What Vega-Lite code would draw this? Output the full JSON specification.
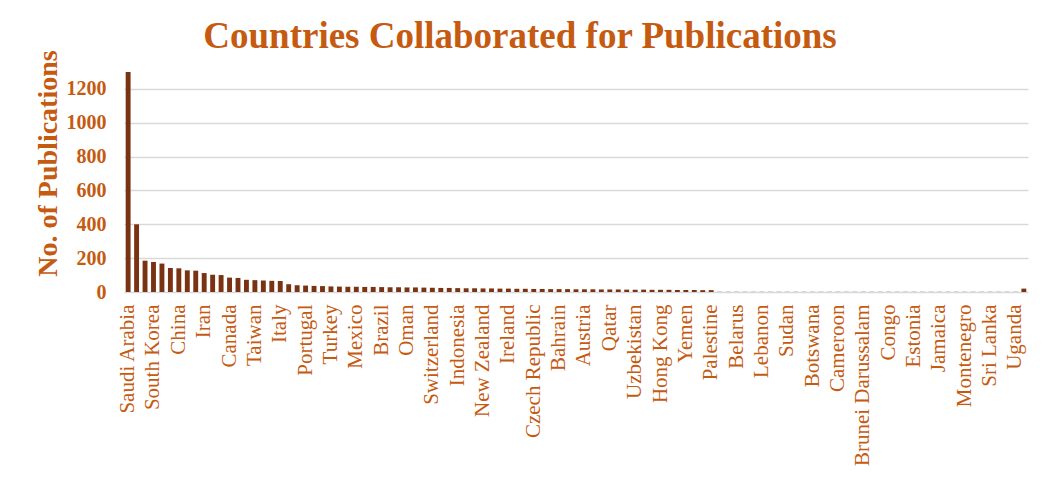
{
  "$schema": "https://vega.github.io/schema/vega-lite/v6.json",
  "width": 904,
  "height": 220,
  "autosize": {"type": "none"},
  "padding": {"left": 124, "top": 72, "right": 24, "bottom": 187},
  "background": "white",
  "title": {
    "text": "Countries Collaborated for Publications",
    "font": "Liberation Serif",
    "fontSize": 37,
    "fontWeight": "bold",
    "color": "#C55A11",
    "anchor": "middle",
    "baseline": "alphabetic",
    "dx": -56,
    "dy": 55,
    "offset": 20
  },
  "data": {
    "values": [
      {"country": "Saudi Arabia", "publications": 1300},
      {"country": "Egypt", "publications": 400},
      {"country": "United States", "publications": 185},
      {"country": "South Korea", "publications": 178},
      {"country": "Malaysia", "publications": 168},
      {"country": "India", "publications": 142},
      {"country": "China", "publications": 140},
      {"country": "Pakistan", "publications": 128},
      {"country": "United Kingdom", "publications": 126},
      {"country": "Iran", "publications": 112},
      {"country": "Australia", "publications": 102},
      {"country": "Germany", "publications": 100},
      {"country": "Canada", "publications": 85},
      {"country": "France", "publications": 83},
      {"country": "Japan", "publications": 72},
      {"country": "Taiwan", "publications": 70},
      {"country": "Spain", "publications": 68},
      {"country": "Tunisia", "publications": 66},
      {"country": "Italy", "publications": 65},
      {"country": "Algeria", "publications": 46},
      {"country": "Jordan", "publications": 40},
      {"country": "Portugal", "publications": 38},
      {"country": "Iraq", "publications": 36},
      {"country": "South Africa", "publications": 35},
      {"country": "Turkey", "publications": 33},
      {"country": "Nigeria", "publications": 32},
      {"country": "Morocco", "publications": 31},
      {"country": "Mexico", "publications": 31},
      {"country": "Bangladesh", "publications": 30},
      {"country": "Vietnam", "publications": 30},
      {"country": "Brazil", "publications": 29},
      {"country": "Poland", "publications": 28},
      {"country": "Greece", "publications": 28},
      {"country": "Oman", "publications": 27},
      {"country": "Russia", "publications": 27},
      {"country": "Netherlands", "publications": 26},
      {"country": "Switzerland", "publications": 25},
      {"country": "Sweden", "publications": 24},
      {"country": "Singapore", "publications": 24},
      {"country": "Indonesia", "publications": 23},
      {"country": "Thailand", "publications": 22},
      {"country": "Romania", "publications": 22},
      {"country": "New Zealand", "publications": 21},
      {"country": "Belgium", "publications": 21},
      {"country": "Finland", "publications": 20},
      {"country": "Ireland", "publications": 20},
      {"country": "Denmark", "publications": 19},
      {"country": "Norway", "publications": 19},
      {"country": "Czech Republic", "publications": 18},
      {"country": "United Arab Emirates", "publications": 18},
      {"country": "Kuwait", "publications": 17},
      {"country": "Bahrain", "publications": 17},
      {"country": "Ethiopia", "publications": 17},
      {"country": "Kenya", "publications": 16},
      {"country": "Austria", "publications": 16},
      {"country": "Hungary", "publications": 16},
      {"country": "Chile", "publications": 15},
      {"country": "Qatar", "publications": 15},
      {"country": "Ukraine", "publications": 15},
      {"country": "Colombia", "publications": 14},
      {"country": "Uzbekistan", "publications": 14},
      {"country": "Kazakhstan", "publications": 14},
      {"country": "Philippines", "publications": 13},
      {"country": "Hong Kong", "publications": 13},
      {"country": "Argentina", "publications": 13},
      {"country": "Serbia", "publications": 12},
      {"country": "Yemen", "publications": 12},
      {"country": "Libya", "publications": 12},
      {"country": "Peru", "publications": 11},
      {"country": "Palestine", "publications": 11},
      {"country": "Ghana", "publications": 1},
      {"country": "Nepal", "publications": 1},
      {"country": "Belarus", "publications": 1},
      {"country": "Slovakia", "publications": 1},
      {"country": "Croatia", "publications": 1},
      {"country": "Lebanon", "publications": 1},
      {"country": "Cyprus", "publications": 1},
      {"country": "Ecuador", "publications": 1},
      {"country": "Sudan", "publications": 1},
      {"country": "Slovenia", "publications": 1},
      {"country": "Bulgaria", "publications": 1},
      {"country": "Botswana", "publications": 1},
      {"country": "Tanzania", "publications": 1},
      {"country": "Syria", "publications": 1},
      {"country": "Cameroon", "publications": 1},
      {"country": "Zimbabwe", "publications": 1},
      {"country": "Luxembourg", "publications": 1},
      {"country": "Brunei Darussalam", "publications": 1},
      {"country": "Lithuania", "publications": 1},
      {"country": "Mauritius", "publications": 1},
      {"country": "Congo", "publications": 1},
      {"country": "Latvia", "publications": 1},
      {"country": "Azerbaijan", "publications": 1},
      {"country": "Estonia", "publications": 1},
      {"country": "Malta", "publications": 1},
      {"country": "Iceland", "publications": 1},
      {"country": "Jamaica", "publications": 1},
      {"country": "Georgia", "publications": 1},
      {"country": "Armenia", "publications": 1},
      {"country": "Montenegro", "publications": 1},
      {"country": "Uruguay", "publications": 1},
      {"country": "Senegal", "publications": 1},
      {"country": "Sri Lanka", "publications": 1},
      {"country": "Rwanda", "publications": 1},
      {"country": "Afghanistan", "publications": 1},
      {"country": "Uganda", "publications": 1},
      {"country": "Zambia", "publications": 20}
    ]
  },
  "mark": {"type": "bar", "color": "#7a3312"},
  "encoding": {
    "x": {
      "field": "country",
      "type": "nominal",
      "sort": null,
      "scale": {"paddingInner": 0.42, "paddingOuter": 0.2},
      "axis": {
        "values": ["Saudi Arabia", "South Korea", "China", "Iran", "Canada", "Taiwan", "Italy", "Portugal", "Turkey", "Mexico", "Brazil", "Oman", "Switzerland", "Indonesia", "New Zealand", "Ireland", "Czech Republic", "Bahrain", "Austria", "Qatar", "Uzbekistan", "Hong Kong", "Yemen", "Palestine", "Belarus", "Lebanon", "Sudan", "Botswana", "Cameroon", "Brunei Darussalam", "Congo", "Estonia", "Jamaica", "Montenegro", "Sri Lanka", "Uganda"],
        "title": null,
        "labelAngle": -90,
        "labelFont": "Liberation Serif",
        "labelFontSize": 21,
        "labelColor": "#C55A11",
        "labelOverlap": false,
        "labelPadding": 12,
        "ticks": false,
        "domain": false,
        "grid": false
      }
    },
    "y": {
      "field": "publications",
      "type": "quantitative",
      "scale": {"domain": [0, 1300], "nice": false},
      "axis": {
        "values": [0, 200, 400, 600, 800, 1000, 1200],
        "format": "d",
        "title": "No. of Publications",
        "titleFont": "Liberation Serif",
        "titleFontSize": 28,
        "titleFontWeight": "bold",
        "titleColor": "#C55A11",
        "titleX": -76,
        "titleY": 91,
        "titleAngle": -90,
        "titleAlign": "center",
        "titleBaseline": "middle",
        "labelFont": "Liberation Serif",
        "labelFontSize": 20,
        "labelFontWeight": "bold",
        "labelColor": "#C55A11",
        "labelPadding": 18,
        "ticks": false,
        "domain": false,
        "grid": true,
        "gridColor": "#D9D9D9",
        "gridWidth": 1.5
      }
    }
  },
  "config": {"view": {"stroke": null}}
}
